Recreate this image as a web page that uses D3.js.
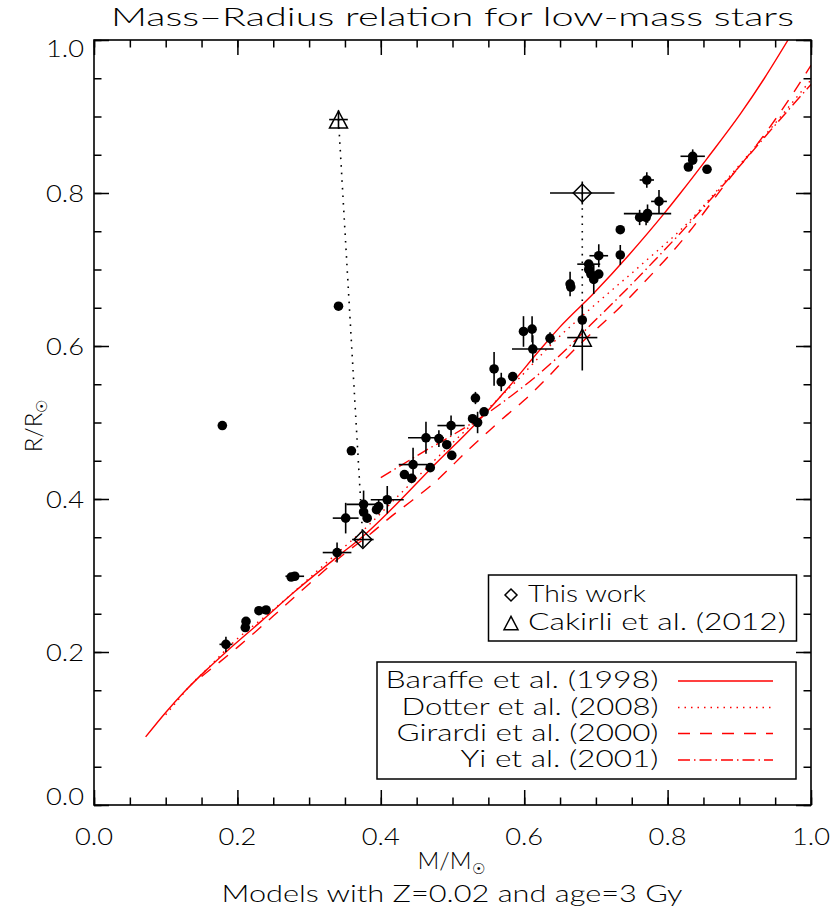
<!DOCTYPE html>
<html><head><meta charset="utf-8">
<script src="https://cdn.jsdelivr.net/npm/d3@7"></script>
<style>
body{margin:0;background:#fff}
svg{display:block}
text{font-family:Lato,"Open Sans","DejaVu Sans",sans-serif;font-weight:300;fill:#000}
</style></head><body>
<svg id="chart" width="830" height="910"></svg>
<script>
// ---------- data ----------
const titleText = "Mass\u2013Radius relation for low-mass stars";
const xMajorTicks = [0, 0.2, 0.4, 0.6, 0.8, 1.0];
const xTickLabels = ["0.0", "0.2", "0.4", "0.6", "0.8", "1.0"];
const yMajorTicks = [0, 0.2, 0.4, 0.6, 0.8, 1.0];
const yTickLabels = ["0.0", "0.2", "0.4", "0.6", "0.8", "1.0"];
const minorTicks = d3.range(0, 21).map(i => i / 20);

const baraffeM = [0.072,0.10,0.126,0.155,0.184,0.233,0.28,0.34,0.376,0.413,0.47,0.534,0.58,0.622,0.65,0.697,0.746,0.795,0.818,0.855,0.902,0.935,0.968];
const baraffeR = [0.089,0.121,0.148,0.175,0.200,0.240,0.279,0.325,0.352,0.385,0.440,0.500,0.548,0.595,0.625,0.669,0.719,0.773,0.800,0.845,0.904,0.950,1.000];

const dotterM = [0.10,0.117,0.133,0.158,0.196,0.242,0.266,0.322,0.35,0.38,0.422,0.46,0.492,0.543,0.59,0.641,0.70,0.762,0.827,0.88,0.94,1.0];
const dotterR = [0.118,0.137,0.155,0.178,0.214,0.249,0.268,0.315,0.338,0.363,0.402,0.437,0.466,0.512,0.555,0.605,0.655,0.705,0.760,0.815,0.880,0.948];

const girardiM = [0.15,0.2,0.25,0.3,0.35,0.385,0.413,0.445,0.473,0.524,0.552,0.576,0.6,0.62,0.675,0.734,0.762,0.83,0.879,0.93,0.972,1.0];
const girardiR = [0.168,0.206,0.247,0.289,0.329,0.354,0.376,0.399,0.420,0.466,0.490,0.510,0.529,0.547,0.600,0.651,0.678,0.749,0.810,0.870,0.926,0.967];

const yiM = [0.40,0.43,0.46,0.49,0.515,0.55,0.585,0.62,0.66,0.692,0.73,0.78,0.827,0.88,0.94,1.0];
const yiR = [0.428,0.445,0.462,0.478,0.492,0.513,0.537,0.563,0.597,0.627,0.662,0.710,0.757,0.813,0.878,0.942];

const starM    = [0.179,0.359,0.184,0.212,0.211,0.230,0.240,0.275,0.280,0.339,0.351,0.376,0.376,0.381,0.397,0.394,0.409,0.433,0.443,0.445,0.463,0.481,0.469,0.492,0.498,0.499,0.532,0.528,0.535,0.544,0.558,0.568,0.584,0.612,0.636,0.599,0.611,0.681,0.664,0.665,0.690,0.690,0.693,0.697,0.704,0.704,0.734,0.734,0.761,0.772,0.770,0.788,0.771,0.835,0.835,0.829,0.855,0.341];
const starR    = [0.496,0.463,0.210,0.240,0.232,0.254,0.255,0.298,0.299,0.330,0.375,0.393,0.383,0.375,0.390,0.386,0.399,0.432,0.427,0.445,0.480,0.479,0.441,0.471,0.496,0.457,0.532,0.505,0.500,0.514,0.570,0.553,0.560,0.596,0.610,0.619,0.622,0.634,0.681,0.677,0.707,0.700,0.694,0.687,0.718,0.694,0.752,0.719,0.768,0.773,0.768,0.789,0.817,0.848,0.843,0.834,0.831,0.652];
const starMerr = [0,0,0.009,0,0,0,0,0,0.013,0.020,0.018,0.024,0,0,0,0,0.023,0,0,0.020,0.025,0,0,0,0.019,0,0,0,0,0,0,0,0,0.029,0,0,0,0,0,0,0.016,0,0,0,0.013,0,0,0,0,0.033,0,0.011,0.010,0.017,0,0,0,0.006];
const starRerr = [0,0,0.010,0,0,0,0,0,0,0.013,0.020,0.018,0,0,0.010,0,0.018,0,0,0.022,0.021,0.011,0,0,0.013,0,0.008,0,0.014,0,0.022,0.012,0,0.018,0.008,0.020,0.017,0,0.016,0,0,0,0,0.019,0.015,0,0,0.013,0.010,0.012,0.010,0.015,0.010,0.009,0,0,0,0.004];

const thisWorkM = [0.375, 0.681];
const thisWorkR = [0.347, 0.800];
const thisWorkMerr = [0.015, 0.045];
const thisWorkRerr = [0.010, 0.015];

const cakirliM = [0.341, 0.681];
const cakirliR = [0.896, 0.611];
const cakirliMerr = [0.013, 0.021];
const cakirliRerr = [0.012, 0.043];

const symbolLegendLabels = ["This work", "Cakirli et al. (2012)"];
const modelLegendLabels = ["Baraffe et al. (1998)", "Dotter et al. (2008)", "Girardi et al. (2000)", "Yi et al. (2001)"];

// ---------- drawing ----------
const svg = d3.select("#chart");
const x = d3.scaleLinear().domain([0, 1]).range([94, 811]);
const y = d3.scaleLinear().domain([0, 1]).range([805, 40]);
const RED = "#ff0000";

svg.append("defs").append("clipPath").attr("id", "plotclip")
  .append("rect").attr("x", x(0)).attr("y", y(1)).attr("width", x(1) - x(0)).attr("height", y(0) - y(1));

// model curves
const styles = [
  {m: baraffeM, r: baraffeR, dash: null},
  {m: dotterM, r: dotterR, dash: "1.5,5"},
  {m: girardiM, r: girardiR, dash: "12,10"},
  {m: yiM, r: yiR, dash: "12,4,1.5,4"}
];
const line = d3.line().x(d => x(d[0])).y(d => y(d[1])).curve(d3.curveMonotoneX);
const curves = svg.append("g").attr("clip-path", "url(#plotclip)");
styles.forEach(s => {
  curves.append("path").datum(s.m.map((v, i) => [v, s.r[i]]))
    .attr("d", line).attr("fill", "none").attr("stroke", RED).attr("stroke-width", 1.4)
    .attr("stroke-dasharray", s.dash);
});

// dotted connectors
const conn = svg.append("g");
conn.append("line").attr("x1", x(cakirliM[0])).attr("y1", y(cakirliR[0]))
  .attr("x2", x(thisWorkM[0])).attr("y2", y(thisWorkR[0]))
  .attr("stroke", "#000").attr("stroke-width", 1.6).attr("stroke-dasharray", "1.6,6");
conn.append("line").attr("x1", x(thisWorkM[1])).attr("y1", y(thisWorkR[1]))
  .attr("x2", x(cakirliM[1])).attr("y2", y(cakirliR[1]))
  .attr("stroke", "#000").attr("stroke-width", 1.6).attr("stroke-dasharray", "1.6,6");

// error bars helper
function errBars(g, m, r, me, re) {
  m.forEach((v, i) => {
    if (me[i] > 0) g.append("line").attr("x1", x(v - me[i])).attr("x2", x(v + me[i]))
      .attr("y1", y(r[i])).attr("y2", y(r[i])).attr("stroke", "#000").attr("stroke-width", 1.6);
    if (re[i] > 0) g.append("line").attr("x1", x(v)).attr("x2", x(v))
      .attr("y1", y(r[i] - re[i])).attr("y2", y(r[i] + re[i])).attr("stroke", "#000").attr("stroke-width", 1.6);
  });
}
const pts = svg.append("g");
errBars(pts, starM, starR, starMerr, starRerr);
starM.forEach((v, i) => {
  pts.append("circle").attr("cx", x(v)).attr("cy", y(starR[i])).attr("r", 4.8).attr("fill", "#000");
});

function diamond(g, cx, cy, s) {
  g.append("path").attr("d", `M${cx},${cy - s}L${cx + s},${cy}L${cx},${cy + s}L${cx - s},${cy}Z`)
    .attr("fill", "none").attr("stroke", "#000").attr("stroke-width", 1.5);
}
function triangle(g, cx, cy, s) {
  const h = s * 0.95;
  g.append("path").attr("d", `M${cx},${cy - h}L${cx + s},${cy + h}L${cx - s},${cy + h}Z`)
    .attr("fill", "none").attr("stroke", "#000").attr("stroke-width", 1.5);
}
errBars(pts, thisWorkM, thisWorkR, thisWorkMerr, thisWorkRerr);
thisWorkM.forEach((v, i) => diamond(pts, x(v), y(thisWorkR[i]), 9));
errBars(pts, cakirliM, cakirliR, cakirliMerr, cakirliRerr);
cakirliM.forEach((v, i) => triangle(pts, x(v), y(cakirliR[i]), 9));

// axes
function addAxis(axis, tx, ty) {
  const g = svg.append("g").attr("transform", `translate(${tx},${ty})`).call(axis);
  g.select(".domain").remove();
  g.selectAll("line").attr("stroke", "#000").attr("stroke-width", 1.5);
  g.selectAll("text").remove();
}
[[xMajorTicks, 15], [minorTicks, 7.5]].forEach(([vals, len]) => {
  addAxis(d3.axisBottom(x).tickValues(vals).tickSize(-len).tickFormat(""), 0, y(0));
  addAxis(d3.axisTop(x).tickValues(vals).tickSize(-len).tickFormat(""), 0, y(1));
});
[[yMajorTicks, 15], [minorTicks, 7.5]].forEach(([vals, len]) => {
  addAxis(d3.axisLeft(y).tickValues(vals).tickSize(-len).tickFormat(""), x(0), 0);
  addAxis(d3.axisRight(y).tickValues(vals).tickSize(-len).tickFormat(""), x(1), 0);
});
svg.append("rect").attr("x", x(0)).attr("y", y(1)).attr("width", x(1) - x(0)).attr("height", y(0) - y(1))
  .attr("fill", "none").attr("stroke", "#000").attr("stroke-width", 1.6);

// tick labels
xMajorTicks.forEach((v, i) => {
  svg.append("text").attr("x", x(v)).attr("y", 845).attr("text-anchor", "middle")
    .attr("font-size", 24).attr("textLength", 38).attr("lengthAdjust", "spacingAndGlyphs").text(xTickLabels[i]);
});
yMajorTicks.forEach((v, i) => {
  let yy = y(v) + 8.5;
  if (v === 0) yy = y(v);
  if (v === 1) yy = y(v) + 17;
  svg.append("text").attr("x", 84).attr("y", yy).attr("text-anchor", "end")
    .attr("font-size", 24).attr("textLength", 38).attr("lengthAdjust", "spacingAndGlyphs").text(yTickLabels[i]);
});

// titles
svg.append("text").attr("x", 452.5).attr("y", 26).attr("text-anchor", "middle")
  .attr("font-size", 25).attr("textLength", 683).attr("lengthAdjust", "spacingAndGlyphs").text(titleText);

const xl = svg.append("text").attr("x", 451).attr("y", 869).attr("text-anchor", "middle").attr("font-size", 24);
xl.append("tspan").text("M/M");
xl.append("tspan").attr("font-size", 15).attr("dy", 5).attr("font-family", "DejaVu Sans").text("\u2609");

svg.append("text").attr("x", 452).attr("y", 902).attr("text-anchor", "middle").attr("font-size", 24)
  .attr("textLength", 461).attr("lengthAdjust", "spacingAndGlyphs").text("Models with Z=0.02 and age=3 Gy");

const yl = svg.append("text").attr("transform", "translate(42,426) rotate(-90)").attr("text-anchor", "middle").attr("font-size", 24);
yl.append("tspan").text("R/R");
yl.append("tspan").attr("font-size", 15).attr("dy", 5).attr("font-family", "DejaVu Sans").text("\u2609");

// legend 1 (symbols)
const lg1 = svg.append("g");
lg1.append("rect").attr("x", 488.5).attr("y", 575).attr("width", 308).attr("height", 66)
  .attr("fill", "#fff").attr("stroke", "#000").attr("stroke-width", 1.5);
diamond(lg1, 511, 595, 6);
triangle(lg1, 511, 623, 7);
lg1.append("text").attr("x", 528).attr("y", 602).attr("font-size", 24).attr("textLength", 118)
  .attr("lengthAdjust", "spacingAndGlyphs").text(symbolLegendLabels[0]);
lg1.append("text").attr("x", 528).attr("y", 630).attr("font-size", 24).attr("textLength", 258)
  .attr("lengthAdjust", "spacingAndGlyphs").text(symbolLegendLabels[1]);

// legend 2 (models)
const lg2 = svg.append("g");
lg2.append("rect").attr("x", 377).attr("y", 662).attr("width", 419).attr("height", 117)
  .attr("fill", "#fff").attr("stroke", "#000").attr("stroke-width", 1.5);
const legW = [273, 257, 262, 198];
const legBase = [688, 714.5, 741, 767];
const legLineY = [681, 707.5, 733.5, 760];
modelLegendLabels.forEach((t, i) => {
  lg2.append("text").attr("x", 658.5).attr("y", legBase[i]).attr("text-anchor", "end")
    .attr("font-size", 24).attr("textLength", legW[i]).attr("lengthAdjust", "spacingAndGlyphs").text(t);
  lg2.append("line").attr("x1", 678).attr("x2", 773).attr("y1", legLineY[i]).attr("y2", legLineY[i])
    .attr("stroke", RED).attr("stroke-width", 1.4).attr("stroke-dasharray", styles[i].dash);
});
</script>
</body></html>
